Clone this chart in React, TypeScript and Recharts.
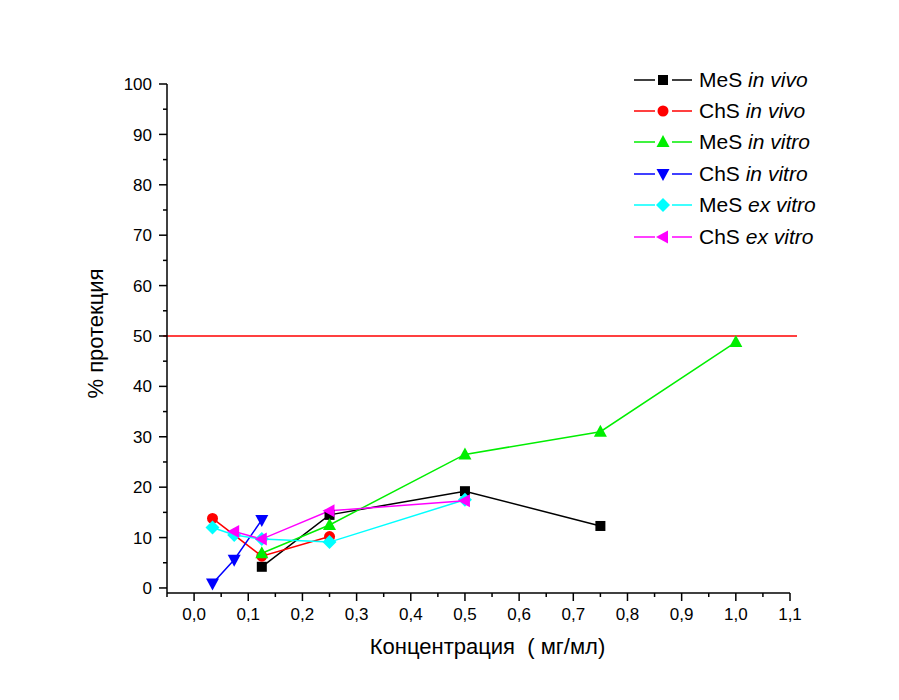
import React from "react";
import { LineChart, Line, XAxis, YAxis, ReferenceLine, Legend, Label } from "recharts";

// concentrations (mg/ml) and % protection
const mesInVivoX = [0.125, 0.25, 0.5, 0.75];
const mesInVivoY = [4.2, 14.5, 19.2, 12.3];

const chsInVivoX = [0.034, 0.125, 0.25];
const chsInVivoY = [13.8, 6.3, 10.2];

const mesInVitroX = [0.125, 0.25, 0.5, 0.75, 1.0];
const mesInVitroY = [6.9, 12.5, 26.5, 31, 48.8];

const chsInVitroX = [0.034, 0.074, 0.125];
const chsInVitroY = [0.9, 5.6, 13.5];

const mesExVitroX = [0.034, 0.074, 0.125, 0.25, 0.5];
const mesExVitroY = [12, 10.5, 9.7, 9.1, 17.5];

const chsExVitroX = [0.074, 0.125, 0.25, 0.5];
const chsExVitroY = [11.2, 9.7, 15.3, 17.3];

const X_TICKS = [-0.05, 0, 0.05, 0.1, 0.15, 0.2, 0.25, 0.3, 0.35, 0.4, 0.45, 0.5, 0.55, 0.6, 0.65, 0.7, 0.75, 0.8, 0.85, 0.9, 0.95, 1.0, 1.05, 1.1];
const Y_TICKS = [0, 5, 10, 15, 20, 25, 30, 35, 40, 45, 50, 55, 60, 65, 70, 75, 80, 85, 90, 95, 100];

const THRESHOLD = 50;

const FONT = "'Liberation Sans', Arial, sans-serif";

type Shape = "square" | "circle" | "triangle" | "triangleDown" | "diamond" | "triangleLeft";

const zip = (xs: number[], ys: number[]) => xs.map((x, i) => ({ x, y: ys[i] }));

const series = [
  { name: "MeS", mode: "in vivo", color: "#000000", shape: "square" as Shape, data: zip(mesInVivoX, mesInVivoY) },
  { name: "ChS", mode: "in vivo", color: "#ff0000", shape: "circle" as Shape, data: zip(chsInVivoX, chsInVivoY) },
  { name: "MeS", mode: "in vitro", color: "#00ee00", shape: "triangle" as Shape, data: zip(mesInVitroX, mesInVitroY) },
  { name: "ChS", mode: "in vitro", color: "#0000ff", shape: "triangleDown" as Shape, data: zip(chsInVitroX, chsInVitroY) },
  { name: "MeS", mode: "ex vitro", color: "#00ffff", shape: "diamond" as Shape, data: zip(mesExVitroX, mesExVitroY) },
  { name: "ChS", mode: "ex vitro", color: "#ff00ff", shape: "triangleLeft" as Shape, data: zip(chsExVitroX, chsExVitroY) },
];

function Marker({ cx, cy, shape, color }: { cx: number; cy: number; shape: Shape; color: string }) {
  switch (shape) {
    case "square":
      return <rect x={cx - 5} y={cy - 5} width={10} height={10} fill={color} />;
    case "circle":
      return <circle cx={cx} cy={cy} r={5.5} fill={color} />;
    case "triangle":
      return <polygon points={`${cx},${cy - 7} ${cx + 6.5},${cy + 5} ${cx - 6.5},${cy + 5}`} fill={color} />;
    case "triangleDown":
      return <polygon points={`${cx},${cy + 7} ${cx + 6.5},${cy - 5} ${cx - 6.5},${cy - 5}`} fill={color} />;
    case "diamond":
      return <polygon points={`${cx},${cy - 7} ${cx + 7},${cy} ${cx},${cy + 7} ${cx - 7},${cy}`} fill={color} />;
    default:
      return <polygon points={`${cx - 7},${cy} ${cx + 5},${cy - 6.5} ${cx + 5},${cy + 6.5}`} fill={color} />;
  }
}

const YTick = (props: any) => {
  const { x, y, payload } = props;
  const major = payload.value % 10 === 0;
  return (
    <g>
      <line x1={x - (major ? 8 : 4)} x2={x} y1={y} y2={y} stroke="#000" strokeWidth={1.5} />
      {major && (
        <text x={x - 15} y={y} dy="0.36em" textAnchor="end" fontSize={17} fontFamily={FONT} fill="#000">
          {payload.value}
        </text>
      )}
    </g>
  );
};

const XTick = (props: any) => {
  const { x, y, payload } = props;
  const major = Math.round(payload.value * 100) % 10 === 0;
  return (
    <g>
      <line x1={x} x2={x} y1={y} y2={y + (major ? 8 : 4)} stroke="#000" strokeWidth={1.5} />
      {major && (
        <text x={x} y={y + 27} textAnchor="middle" fontSize={17} fontFamily={FONT} fill="#000">
          {payload.value.toFixed(1).replace(".", ",")}
        </text>
      )}
    </g>
  );
};

function LegendBox() {
  return (
    <div style={{ fontFamily: FONT, fontSize: 21, color: "#000" }}>
      {series.map((s, i) => (
        <div key={i} style={{ display: "flex", alignItems: "center", height: 31.4 }}>
          <svg width={62} height={20}>
            <line x1={2} x2={23} y1={10} y2={10} stroke={s.color} strokeWidth={1.5} />
            <line x1={40} x2={60} y1={10} y2={10} stroke={s.color} strokeWidth={1.5} />
            <Marker cx={31} cy={10} shape={s.shape} color={s.color} />
          </svg>
          <span style={{ marginLeft: 5, whiteSpace: "nowrap" }}>
            {s.name} <i>{s.mode}</i>
          </span>
        </div>
      ))}
    </div>
  );
}

export default function App() {
  return (
    <div style={{ position: "absolute", left: 0, top: 0, width: 899, height: 700, background: "#fff" }}>
      <LineChart width={899} height={700} margin={{ top: 84, right: 109, left: 23, bottom: 27 }}>
        <XAxis
          type="number"
          dataKey="x"
          domain={[-0.05, 1.1]}
          ticks={X_TICKS}
          interval={0}
          allowDataOverflow
          height={80}
          tickSize={0}
          tickMargin={0}
          tickLine={false}
          tick={<XTick />}
          axisLine={{ stroke: "#000", strokeWidth: 1.5 }}
        >
          <Label
            content={({ viewBox }: any) => (
              <text
                x={viewBox.x + viewBox.width / 2 + 9}
                y={viewBox.y + 61}
                textAnchor="middle"
                fontSize={22}
                fontFamily={FONT}
                fill="#000"
                style={{ whiteSpace: "pre" }}
              >
                {"Концентрация  ( мг/мл)"}
              </text>
            )}
          />
        </XAxis>
        <YAxis
          type="number"
          dataKey="y"
          domain={[-1, 100]}
          ticks={Y_TICKS}
          interval={0}
          allowDataOverflow
          width={144}
          tickSize={0}
          tickMargin={0}
          tickLine={false}
          tick={<YTick />}
          axisLine={{ stroke: "#000", strokeWidth: 1.5 }}
        >
          <Label
            content={({ viewBox }: any) => {
              const cx = viewBox.x + 72;
              const cy = viewBox.y + viewBox.height / 2 - 5;
              return (
                <text
                  x={cx}
                  y={cy}
                  transform={`rotate(-90, ${cx}, ${cy})`}
                  textAnchor="middle"
                  dominantBaseline="central"
                  fontSize={22}
                  fontFamily={FONT}
                  fill="#000"
                >
                  % протекция
                </text>
              );
            }}
          />
        </YAxis>
        <ReferenceLine
          segment={[{ x: -0.057, y: THRESHOLD }, { x: 1.113, y: THRESHOLD }]}
          ifOverflow="visible"
          stroke="#ff0000"
          strokeWidth={1.5}
        />
        {series.map((s, i) => (
          <Line
            key={i}
            data={s.data}
            dataKey="y"
            name={`${s.name} ${s.mode}`}
            type="linear"
            stroke={s.color}
            strokeWidth={1.5}
            isAnimationActive={false}
            dot={(p: any) => <Marker key={p.index} cx={p.cx} cy={p.cy} shape={s.shape} color={s.color} />}
            activeDot={false}
          />
        ))}
        <Legend
          layout="vertical"
          align="center"
          verticalAlign="middle"
          wrapperStyle={{ left: 632, top: 64, width: 240 }}
          content={() => <LegendBox />}
        />
      </LineChart>
    </div>
  );
}
